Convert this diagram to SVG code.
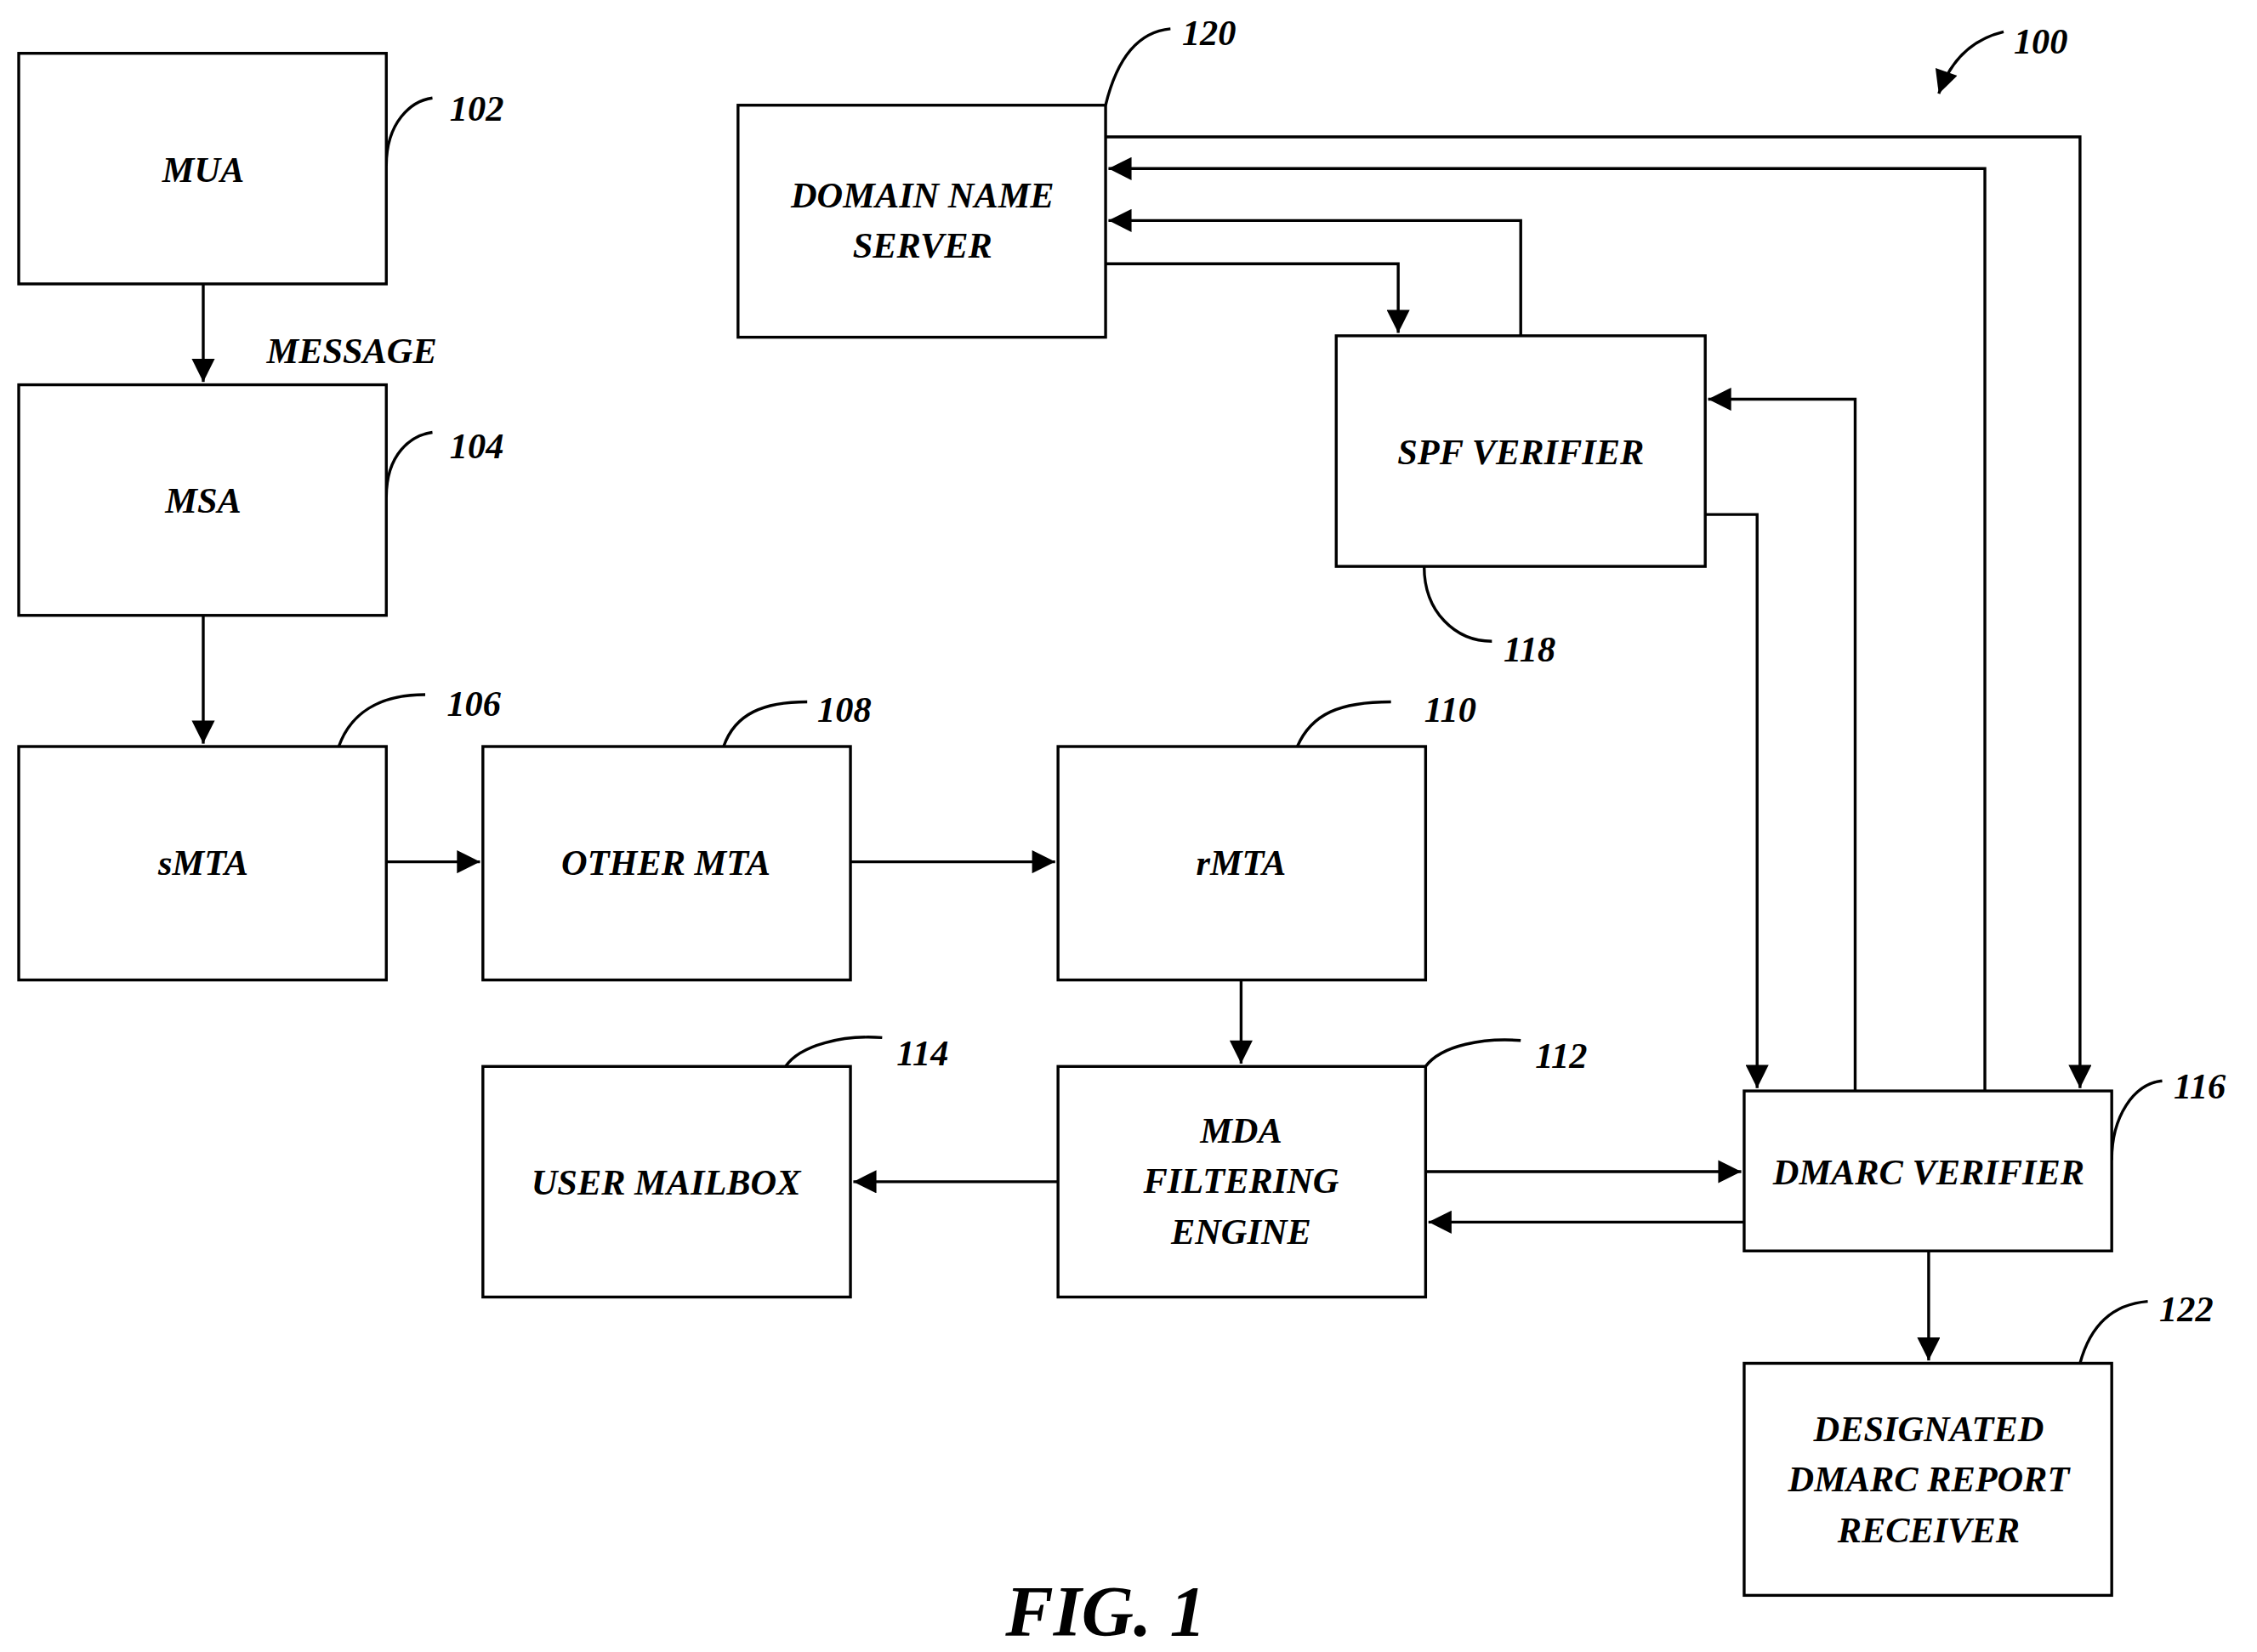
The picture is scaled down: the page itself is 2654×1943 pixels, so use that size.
<svg xmlns="http://www.w3.org/2000/svg" width="2654" height="1943" viewBox="0 0 2654 1943">
<style>
.b{fill:#fff;stroke:#000;stroke-width:2}
.t{font-family:"Liberation Serif",serif;font-weight:bold;font-style:italic;font-size:25px;text-anchor:middle}
.r{font-family:"Liberation Serif",serif;font-weight:bold;font-style:italic;font-size:25px}
.c{fill:none;stroke:#000;stroke-width:2}
</style>
<defs><marker id="a" viewBox="0 0 10 10" refX="10" refY="5" markerWidth="18" markerHeight="16" markerUnits="userSpaceOnUse" orient="auto"><path d="M0,0L10,5L0,10z"/></marker></defs>
<rect width="2654" height="1943" fill="#fff"/>
<g transform="scale(1.695)">
<g id="connectors" class="c" marker-end="url(#a)">
<path d="M141,197V265"/>
<path d="M141,427V516"/>
<path d="M268,598H333"/>
<path d="M590,598H732"/>
<path d="M861,680V738"/>
<path d="M734,820H592"/>
<path d="M989,813H1208"/>
<path d="M1210,848H991"/>
<path d="M1338,868V944"/>
<path d="M767,95H1443V755"/>
<path d="M1377,757V117H769"/>
<path d="M1287,757V277H1185"/>
<path d="M1055,233V153H769"/>
<path d="M767,183H970V231"/>
<path d="M1183,357H1219V755"/>
<path d="M1390,22C1365,28 1352,45 1345,65"/>
</g>
<g id="leaders" class="c">
<path d="M268,115C268,85 285,70 300,68"/>
<path d="M268,345C268,315 285,302 300,300"/>
<path d="M235,518C245,490 270,482 295,482"/>
<path d="M502,518C510,495 530,487 560,487"/>
<path d="M900,518C910,495 930,487 965,487"/>
<path d="M989,740C1000,725 1030,720 1055,722"/>
<path d="M545,740C555,725 585,718 612,720"/>
<path d="M1465,805C1465,775 1480,752 1500,750"/>
<path d="M988,393C988,425 1010,445 1035,445"/>
<path d="M767,73C775,40 790,22 812,20"/>
<path d="M1443,946C1450,920 1465,905 1490,903"/>
</g>
<g id="n102"><rect class="b" x="13" y="37" width="255" height="160"/><text class="t" x="141" y="126">MUA</text><text class="r" x="312" y="84">102</text></g>
<text class="r" x="185" y="252">MESSAGE</text>
<g id="n104"><rect class="b" x="13" y="267" width="255" height="160"/><text class="t" x="141" y="356">MSA</text><text class="r" x="312" y="318">104</text></g>
<g id="n106"><rect class="b" x="13" y="518" width="255" height="162"/><text class="t" x="141" y="607">sMTA</text><text class="r" x="310" y="497">106</text></g>
<g id="n108"><rect class="b" x="335" y="518" width="255" height="162"/><text class="t" x="462" y="607">OTHER MTA</text><text class="r" x="567" y="501">108</text></g>
<g id="n110"><rect class="b" x="734" y="518" width="255" height="162"/><text class="t" x="861" y="607">rMTA</text><text class="r" x="988" y="501">110</text></g>
<g id="n114"><rect class="b" x="335" y="740" width="255" height="160"/><text class="t" x="462" y="829">USER MAILBOX</text><text class="r" x="622" y="739">114</text></g>
<g id="n112"><rect class="b" x="734" y="740" width="255" height="160"/><text class="t" x="861" y="793">MDA</text><text class="t" x="861" y="828">FILTERING</text><text class="t" x="861" y="863">ENGINE</text><text class="r" x="1065" y="741">112</text></g>
<g id="n116"><rect class="b" x="1210" y="757" width="255" height="111"/><text class="t" x="1338" y="822">DMARC VERIFIER</text><text class="r" x="1508" y="762">116</text></g>
<g id="n122"><rect class="b" x="1210" y="946" width="255" height="161"/><text class="t" x="1338" y="1000">DESIGNATED</text><text class="t" x="1338" y="1035">DMARC REPORT</text><text class="t" x="1338" y="1070">RECEIVER</text><text class="r" x="1498" y="917">122</text></g>
<g id="n120"><rect class="b" x="512" y="73" width="255" height="161"/><text class="t" x="640" y="144">DOMAIN NAME</text><text class="t" x="640" y="179">SERVER</text><text class="r" x="820" y="31">120</text></g>
<g id="n118"><rect class="b" x="927" y="233" width="256" height="160"/><text class="t" x="1055" y="322">SPF VERIFIER</text><text class="r" x="1043" y="459">118</text></g>
<text class="r" x="1397" y="37">100</text>
<text class="t" x="767" y="1135" style="font-size:50px">FIG. 1</text>
</g>
</svg>
